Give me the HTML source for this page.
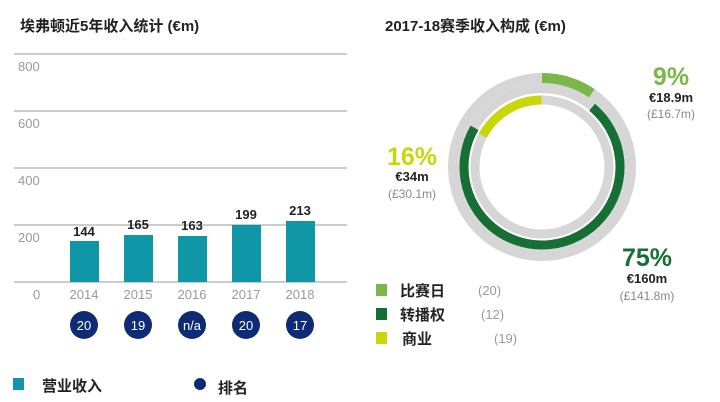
<!DOCTYPE html>
<html><head><meta charset="utf-8"><style>
body{margin:0;width:720px;height:402px;background:#fff;overflow:hidden;font-family:"Liberation Sans","Noto Sans CJK SC",sans-serif;}
svg{position:absolute;left:0;top:0}
</style></head><body>
<svg width="720" height="402" viewBox="0 0 720 402" font-family="Liberation Sans, Noto Sans CJK SC, sans-serif">
<text x="20" y="31" font-size="15" font-weight="bold" fill="#222">埃弗顿近5年收入统计 (€m)</text>
<g stroke="#999" stroke-width="1">
<line x1="14" y1="54" x2="347" y2="54"/><line x1="14" y1="111" x2="347" y2="111"/>
<line x1="14" y1="168" x2="347" y2="168"/><line x1="14" y1="225" x2="347" y2="225"/>
<line x1="14" y1="282" x2="347" y2="282"/></g>
<g font-size="13" fill="#999">
<text x="18" y="71">800</text><text x="18" y="128">600</text><text x="18" y="185">400</text><text x="18" y="242">200</text><text x="33" y="299">0</text>
</g>
<g fill="#0f97a8">
<rect x="70" y="241" width="29" height="41"/><rect x="124" y="235" width="29" height="47"/>
<rect x="178" y="236" width="29" height="46"/><rect x="232" y="225" width="29" height="57"/>
<rect x="286" y="221" width="29" height="61"/></g>
<g font-size="13" font-weight="bold" fill="#222" text-anchor="middle">
<text x="84" y="236">144</text><text x="138" y="229">165</text><text x="192" y="230">163</text><text x="246" y="219">199</text><text x="300" y="215">213</text></g>
<g font-size="13" fill="#999" text-anchor="middle">
<text x="84" y="299">2014</text><text x="138" y="299">2015</text><text x="192" y="299">2016</text><text x="246" y="299">2017</text><text x="300" y="299">2018</text></g>
<g fill="#0f2b75"><circle cx="84" cy="325" r="14"/><circle cx="138" cy="325" r="14"/><circle cx="192" cy="325" r="14"/><circle cx="246" cy="325" r="14"/><circle cx="300" cy="325" r="14"/></g>
<g font-size="13" fill="#fff" text-anchor="middle">
<text x="84" y="330">20</text><text x="138" y="330">19</text><text x="192" y="330">n/a</text><text x="246" y="330">20</text><text x="300" y="330">17</text></g>
<rect x="13" y="378" width="11" height="12" fill="#0f97a8"/>
<text x="42" y="391" font-size="15" font-weight="bold" fill="#222">营业收入</text>
<circle cx="200" cy="384" r="6" fill="#0f2b75"/>
<text x="218" y="393" font-size="15" font-weight="bold" fill="#222">排名</text>

<text x="385" y="31" font-size="15" font-weight="bold" fill="#222">2017-18赛季收入构成 (€m)</text>
<g fill="none">
<circle cx="542" cy="167" r="89" stroke="#d6d6d6" stroke-width="10"/>
<circle cx="542" cy="167" r="79" stroke="#d6d6d6" stroke-width="10"/>
<circle cx="542" cy="167" r="67" stroke="#d6d6d6" stroke-width="9"/>
<circle cx="542" cy="167" r="89" stroke="#7ab648" stroke-width="10" stroke-dasharray="52.8 600" transform="rotate(-90 542 167)"/>
<circle cx="542" cy="167" r="78" stroke="#166f34" stroke-width="9" stroke-dasharray="354 600" transform="rotate(-50 542 167)"/>
<circle cx="542" cy="167" r="67" stroke="#c8d60a" stroke-width="9" stroke-dasharray="72 600" transform="rotate(208 542 167)"/>
</g>
<text x="671" y="85" font-size="25" font-weight="bold" fill="#7ab648" text-anchor="middle">9%</text>
<text x="671" y="102" font-size="13" font-weight="bold" fill="#222" text-anchor="middle">€18.9m</text>
<text x="671" y="118" font-size="12" fill="#888" text-anchor="middle">(£16.7m)</text>
<text x="412" y="165" font-size="25" font-weight="bold" fill="#c8d60a" text-anchor="middle">16%</text>
<text x="412" y="181" font-size="13" font-weight="bold" fill="#222" text-anchor="middle">€34m</text>
<text x="412" y="198" font-size="12" fill="#888" text-anchor="middle">(£30.1m)</text>
<text x="647" y="266" font-size="25" font-weight="bold" fill="#166f34" text-anchor="middle">75%</text>
<text x="647" y="283" font-size="13" font-weight="bold" fill="#222" text-anchor="middle">€160m</text>
<text x="647" y="300" font-size="12" fill="#888" text-anchor="middle">(£141.8m)</text>
<rect x="376" y="284" width="11" height="12" fill="#7ab648"/>
<rect x="376" y="308" width="11" height="12" fill="#166f34"/>
<rect x="376" y="332" width="11" height="12" fill="#c8d60a"/>
<g font-size="15" font-weight="bold" fill="#222">
<text x="400" y="296">比赛日</text><text x="400" y="320">转播权</text><text x="402" y="344">商业</text></g>
<g font-size="13" fill="#999">
<text x="478" y="295">(20)</text><text x="481" y="319">(12)</text><text x="494" y="343">(19)</text></g>
</svg>
</body></html>
